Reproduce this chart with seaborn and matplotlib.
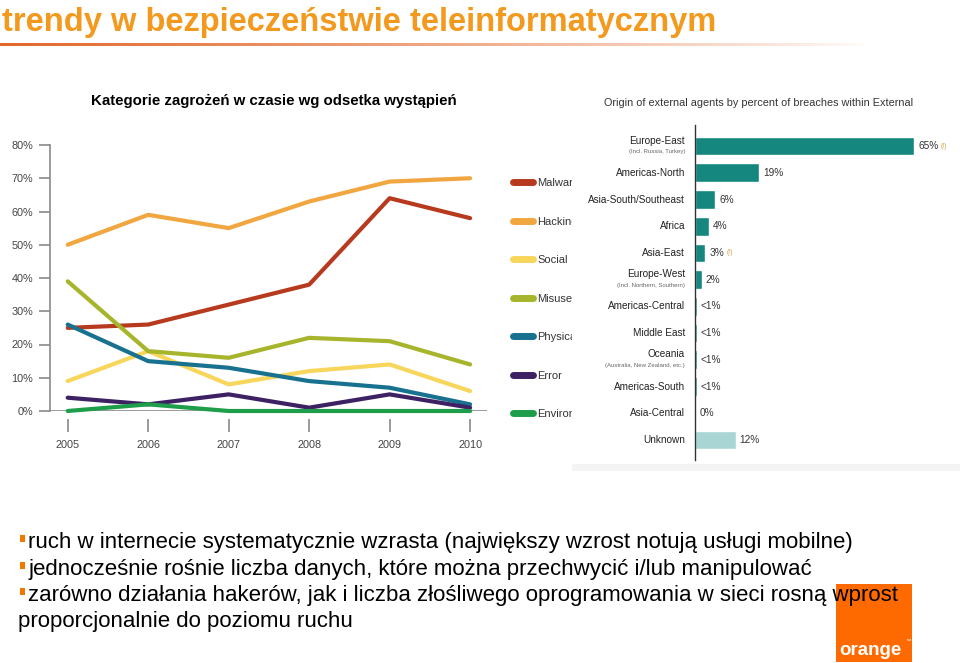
import numpy as np
import pandas as pd
import matplotlib
matplotlib.use('Agg')
import matplotlib.pyplot as plt
import seaborn as sns
from matplotlib.patches import Rectangle
from matplotlib.lines import Line2D
from matplotlib.colors import to_rgb

sns.set_theme(style='ticks')
plt.rcParams['font.family'] = ['Liberation Sans', 'DejaVu Sans']
COND = ['Liberation Sans Narrow', 'Liberation Sans', 'DejaVu Sans']

# --- left chart: threat categories over time (% of breaches) ---
years = [2005, 2006, 2007, 2008, 2009, 2010]
malware = [25, 26, 32, 38, 64, 58]
hacking = [50, 59, 55, 63, 69, 70]
social = [9, 18, 8, 12, 14, 6]
misuse = [39, 18, 16, 22, 21, 14]
physical = [26, 15, 13, 9, 7, 2]
error = [4, 2, 5, 1, 5, 1]
environmental = [0, 2, 0, 0, 0, 0]
categories = ['Malware', 'Hacking', 'Social', 'Misuse', 'Physical', 'Error', 'Environmental']
line_colors = ['#B83A1E', '#F2A640', '#F8D65C', '#A6B52B', '#17718F', '#3D2163', '#1E9E4A']

# --- right chart: origin of external agents ---
regions = ['Europe-East', 'Americas-North', 'Asia-South/Southeast', 'Africa', 'Asia-East',
           'Europe-West', 'Americas-Central', 'Middle East', 'Oceania', 'Americas-South',
           'Asia-Central', 'Unknown']
region_notes = ['(Incl. Russia, Turkey)', '', '', '', '', '(Incl. Northern, Southern)',
                '', '', '(Australia, New Zealand, etc.)', '', '', '']
shares = [65, 19, 6, 4, 3, 2, 0.5, 0.5, 0.5, 0.5, 0, 12]
share_labels = ['65%', '19%', '6%', '4%', '3%', '2%', '<1%', '<1%', '<1%', '<1%', '0%', '12%']
flagged = ['Europe-East', 'Asia-East']
bar_colors = ['#16877F'] * 11 + ['#A9D6D4']

title = 'trendy w bezpieczeństwie teleinformatycznym'
left_title = 'Kategorie zagrożeń w czasie wg odsetka wystąpień'
right_title = 'Origin of external agents by percent of breaches within External'
bullets = [
    ('ruch w internecie systematycznie wzrasta (największy wzrost notują usługi mobilne)', True),
    ('jednocześnie rośnie liczba danych, które można przechwycić i/lub manipulować', True),
    ('zarówno działania hakerów, jak i liczba złośliwego oprogramowania w sieci rosną wprost', True),
    ('proporcjonalnie do poziomu ruchu', False),
]

W, H = 960, 663
fig = plt.figure(figsize=(W / 100, H / 100), dpi=100)
fig.patch.set_facecolor('white')


def fx(px):
    return px / W


def fy(py):
    return 1 - py / H


# slide title + fading underline
fig.text(fx(2), fy(31), title, color='#F39A1E', fontsize=23.5, fontweight='bold', va='baseline')
gax = fig.add_axes([0, fy(46), fx(870), 3 / H])
grad = np.zeros((1, 256, 4))
grad[..., :3] = to_rgb('#E3672A')
grad[..., 3] = np.linspace(1, 0, 256) ** 0.8
gax.imshow(grad, aspect='auto')
gax.axis('off')

fig.text(fx(91), fy(105), left_title, fontsize=10.8, fontweight='bold', color='black', va='baseline')

# left line chart
ax = fig.add_axes([fx(50), fy(411), fx(437), (411 - 145) / H])
df = pd.DataFrame({
    'year': years * len(categories),
    'category': np.repeat(categories, len(years)),
    'value': malware + hacking + social + misuse + physical + error + environmental,
})
sns.lineplot(data=df, x='year', y='value', hue='category', hue_order=categories,
             palette=line_colors, linewidth=3, legend=False, ax=ax, clip_on=False,
             solid_capstyle='round')
ax.set_xlim(2004.78, 2010.21)
ax.set_ylim(0, 80)
ax.set_yticks(range(0, 81, 10))
ax.set_yticklabels([f'{v}%' for v in range(0, 81, 10)])
ax.set_xticks(years)
ax.set_xlabel('')
ax.set_ylabel('')
for s in ['top', 'right']:
    ax.spines[s].set_visible(False)
ax.spines['left'].set_color('#8a8a8a')
ax.spines['left'].set_linewidth(1.2)
ax.spines['bottom'].set_position(('outward', 6))
ax.spines['bottom'].set_visible(False)
ax.axhline(0, color='#8a8a8a', lw=1.2, zorder=1)
ax.tick_params(axis='y', length=8, width=1.2, color='#8a8a8a', pad=4, labelsize=7.8, labelcolor='#444')
ax.tick_params(axis='x', length=9, width=1.2, color='#8a8a8a', pad=6, labelsize=7.8, labelcolor='#444')
for lbl in ax.get_xticklabels() + ax.get_yticklabels():
    lbl.set_family(COND)
ax.patch.set_alpha(0)

handles = [Line2D([0], [0], color=c, lw=5, solid_capstyle='round') for c in line_colors]
ax.legend(handles, categories, loc='upper left', bbox_to_anchor=(fx(513), fy(178)),
          bbox_transform=fig.transFigure, frameon=False, handlelength=1.8, handletextpad=0.4,
          labelspacing=2.57, borderpad=0, borderaxespad=0,
          prop={'family': COND, 'size': 8}, labelcolor='#333')

# right panel background (cuts the legend text like in the slide)
fig.add_artist(Rectangle((fx(572), fy(470)), fx(388), (470 - 78) / H, transform=fig.transFigure,
                         facecolor='white', edgecolor='none', zorder=1))
fig.add_artist(Rectangle((fx(572), fy(471)), fx(388), 7 / H, transform=fig.transFigure,
                         facecolor='#f4f4f4', edgecolor='none', zorder=1))
fig.text(fx(604), fy(106), right_title, fontsize=7.8, color='#333', va='baseline', zorder=3)

ax2 = fig.add_axes([fx(695), fy(460), fx(260), (460 - 125) / H])
ax2.set_zorder(2)
df2 = pd.DataFrame({'region': regions, 'share': shares})
sns.barplot(data=df2, y='region', x='share', hue='region', order=regions, hue_order=regions,
            palette=bar_colors, saturation=1, width=0.7, legend=False, orient='h', ax=ax2)
ax2.set_xlim(0, 77)
ax2.set_ylim(11.75, -0.79)
ax2.set_xticks([])
ax2.set_yticks([])
ax2.set_xlabel('')
ax2.set_ylabel('')
for s in ['top', 'right', 'bottom']:
    ax2.spines[s].set_visible(False)
ax2.spines['left'].set_color('#333')
ax2.spines['left'].set_linewidth(1)
ax2.patch.set_alpha(0)

ytr = ax2.get_yaxis_transform()
for i, (r, note) in enumerate(zip(regions, region_notes)):
    if note:
        ax2.text(-0.038, i - 0.2, r, transform=ytr, ha='right', va='center', fontsize=7.2, color='#222')
        ax2.text(-0.038, i + 0.2, note, transform=ytr, ha='right', va='center', fontsize=4.3, color='#666')
    else:
        ax2.text(-0.038, i, r, transform=ytr, ha='right', va='center', fontsize=7.2, color='#222')
    t = ax2.annotate(share_labels[i], (shares[i], i), xytext=(3, 0), textcoords='offset points',
                     ha='left', va='center', fontsize=7.3, color='#333')
    if r in flagged:
        ax2.annotate('(!)', xy=(1, 0.5), xycoords=t, xytext=(1.5, 0), textcoords='offset points',
                     ha='left', va='center', fontsize=5, color='#D4A04A')

# bullet text
orange = '#F07800'
fig.add_artist(Rectangle((fx(836), fy(662)), fx(76), (662 - 584) / H, transform=fig.transFigure,
                         facecolor='#FF6A00', edgecolor='none', zorder=1))
fig.text(fx(839), fy(655), 'orange', fontsize=13.5, fontweight='bold', color='white', va='baseline', zorder=3)
fig.text(fx(905), fy(643), '™', fontsize=4, color='white', va='baseline', zorder=3)

baselines = [548, 575, 601, 627]
for (txt, has_bullet), yb in zip(bullets, baselines):
    if has_bullet:
        fig.add_artist(Rectangle((fx(20), fy(yb - 6)), fx(5), 7 / H, transform=fig.transFigure,
                                 facecolor=orange, edgecolor='none', zorder=2))
        fig.text(fx(28), fy(yb), txt, fontsize=16, color='black', va='baseline', zorder=3)
    else:
        fig.text(fx(18), fy(yb), txt, fontsize=16, color='black', va='baseline', zorder=3)

fig.savefig('out.png', dpi=100, facecolor='white')
